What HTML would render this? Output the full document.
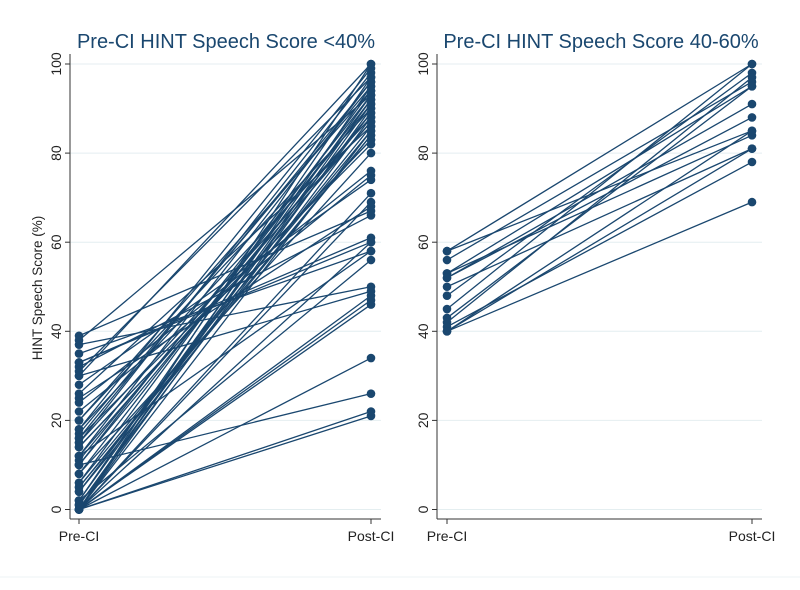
<!DOCTYPE html>
<html><head><meta charset="utf-8"><style>
body{margin:0;background:#fff;font-family:"Liberation Sans",sans-serif}
svg text{font-family:"Liberation Sans",sans-serif}
</style></head><body>
<svg id="c" width="800" height="585"></svg>
<script>
const categories=["Pre-CI","Post-CI"];
const ticks=[0,20,40,60,80,100];
const leftPre=[0,0,0,0,0,0,0,0,0,0,1,1,2,2,4,5,6,8,10,10,11,12,12,14,15,15,16,17,18,18,20,22,24,25,26,28,30,31,32,33,35,37,38,39,0,0,2,5,8,12,16,20,0,1,4,6,10,14,30,33];
const leftPost=[21,22,34,46,47,48,60,85,90,95,88,92,93,97,84,86,94,80,89,26,91,96,58,83,87,98,82,95,99,88,90,75,76,68,86,74,100,97,66,61,58,50,93,67,69,71,56,84,92,87,96,94,100,91,89,85,93,83,49,60];
const rightPre=[58,58,56,53,53,52,52,50,48,45,43,42,41,40,40,40];
const rightPost=[100,85,96,95,84,88,91,81,98,100,95,97,78,69,81,85];
const NS="http://www.w3.org/2000/svg";
const svg=document.getElementById('c');
function mk(t,a,p){const e=document.createElementNS(NS,t);for(const k in a)e.setAttribute(k,a[k]);(p||svg).appendChild(e);return e;}
const col="#1a476f";
const yS=v=>509.5-v*4.455;
function panel(name,ax,x0,x1,xr,tx0,title,pre,post,ylab){
  const g=mk('g',{});
  
  
  ticks.forEach(t=>{
    const gl=mk('line',{x1:ax,x2:xr,y1:yS(t),y2:yS(t),stroke:"#e4eef0","stroke-width":1},g);
    
    
    mk('line',{x1:ax-5,x2:ax,y1:yS(t),y2:yS(t),stroke:"#333"},g);
    const tx=mk('text',{x:0,y:0,"font-size":14,fill:"#222","text-anchor":"middle",transform:`translate(${ax-9},${yS(t)}) rotate(-90)`},g);
    tx.textContent=t;
    
    
  });
  mk('line',{x1:ax,x2:ax,y1:yS(100)-10,y2:519,stroke:"#333"},g);
  mk('line',{x1:ax,x2:xr,y1:519,y2:519,stroke:"#333"},g);
  [x0,x1].forEach((x,i)=>{
    mk('line',{x1:x,x2:x,y1:519,y2:524,stroke:"#333"},g);
    const tx=mk('text',{x:x,y:541,"font-size":14,fill:"#222","text-anchor":"middle"},g);
    tx.textContent=categories[i];
    
    
  });
  for(let i=0;i<pre.length;i++){
    const l=mk('line',{x1:x0,y1:yS(pre[i]),x2:x1,y2:yS(post[i]),stroke:col,"stroke-width":1.3},g);
    
    
  }
  for(let i=0;i<pre.length;i++){
    const a=mk('circle',{cx:x0,cy:yS(pre[i]),r:4.3,fill:col},g);
    
    
    const b=mk('circle',{cx:x1,cy:yS(post[i]),r:4.3,fill:col},g);
    
    
  }
  const tt=mk('text',{x:tx0,y:48,"font-size":20,fill:col,"text-anchor":"middle"},g);
  tt.textContent=title;
  
  
  if(ylab){
    const yl=mk('text',{x:0,y:0,"font-size":13.5,fill:"#222","text-anchor":"middle",transform:`translate(42,288) rotate(-90)`},g);
    yl.textContent="HINT Speech Score (%)";
    
    
  }
}
panel('left-panel',70,79,371,381,226,"Pre-CI HINT Speech Score <40%",leftPre,leftPost,true);
panel('right-panel',437,447,752,762,601,"Pre-CI HINT Speech Score 40-60%",rightPre,rightPost,false);
mk('line',{x1:0,x2:800,y1:577,y2:577,stroke:"#eef3f5"});
</script>
</body></html>
